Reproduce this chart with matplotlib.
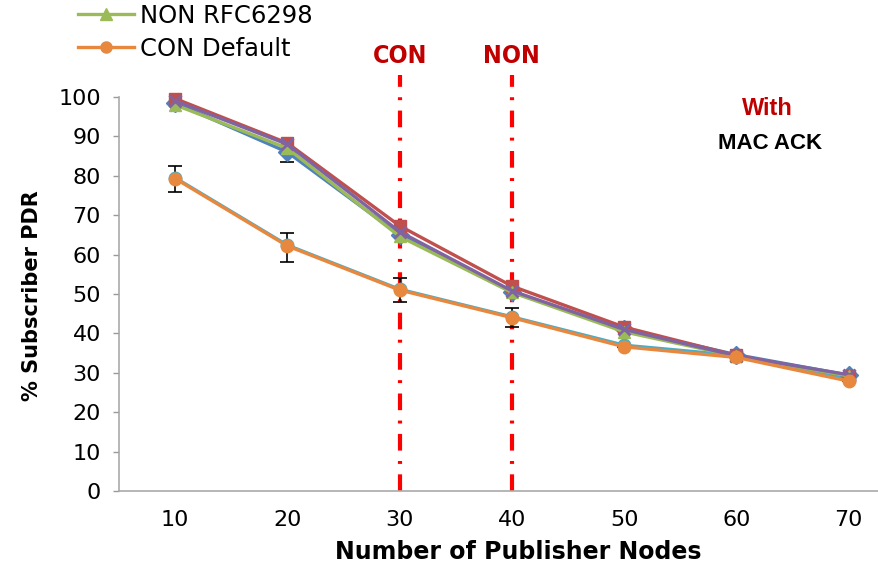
import numpy as np
import matplotlib
matplotlib.use("Agg")
import matplotlib.pyplot as plt
from matplotlib.lines import Line2D

# ---- data ----
nodes = [10, 20, 30, 40, 50, 60, 70]

non_blue = [98.5, 86.0, 65.0, 50.5, 41.0, 34.6, 29.4]
non_red = [99.6, 88.3, 67.3, 52.0, 41.6, 34.4, 29.2]
non_rfc6298 = [98.0, 87.0, 64.6, 50.4, 40.4, 34.2, 29.2]
non_purple = [99.0, 88.0, 65.8, 50.8, 41.0, 34.3, 29.5]
con_teal = [79.5, 62.4, 51.2, 44.2, 37.0, 34.4, 28.4]
con_default = [79.3, 62.2, 51.0, 44.0, 36.6, 33.9, 27.9]

# error bars (lower, upper) for the CON Default series
con_err_lo = [3.3, 4.2, 3.0, 2.5, 0.0, 0.0, 0.0]
con_err_hi = [3.2, 3.3, 3.0, 2.5, 0.0, 0.0, 0.0]
# error bars on the NON group (only at 20 nodes)
non_err_lo = [0.0, 2.5, 0.0, 0.0, 0.0, 0.0, 0.0]
non_err_hi = [0.0, 3.0, 0.0, 0.0, 0.0, 0.0, 0.0]

con_limit = 30
non_limit = 40

yticks = list(range(0, 101, 10))

fig = plt.figure(figsize=(8.79, 5.66), dpi=100)
ax = fig.add_axes([119 / 879, 1 - 491 / 566, 760 / 879, 394 / 566])

# vertical limit markers
for xv in (con_limit, non_limit):
    ax.plot([xv, xv], [0, 105.6], color="#ff0000", lw=3,
            ls=(0, (4, 2.5, 0.7, 2.5)), clip_on=False, zorder=1)
for xv, lab in ((con_limit, "CON"), (non_limit, "NON")):
    ax.text(xv, 110.3, lab, color="#c00000", fontsize=18,
            fontweight="bold", fontstretch="condensed",
            ha="center", va="center")

ax.errorbar(nodes, non_blue, yerr=[non_err_lo, non_err_hi], fmt="none",
            ecolor="black", elinewidth=1.2, capsize=5, capthick=1.2, zorder=2)
ax.errorbar(nodes, con_default, yerr=[con_err_lo, con_err_hi], fmt="none",
            ecolor="black", elinewidth=1.2, capsize=5, capthick=1.2, zorder=2)

style = dict(lw=2.4, ms=9, clip_on=False)
ax.plot(nodes, con_teal, color="#4bacc6", marker="o", zorder=3, **style)
ax.plot(nodes, non_blue, color="#4f81bd", marker="D", zorder=3, **style)
ax.plot(nodes, non_red, color="#c0504d", marker="s", zorder=4, **style)
ax.plot(nodes, non_rfc6298, color="#9bbb59", marker="^", zorder=5, **style)
ax.plot(nodes, non_purple, color="#8064a2", marker="x", mew=2, zorder=6, **style)
ax.plot(nodes, con_default, color="#e8883e", marker="o", zorder=7, **style)

ax.text(62.8, 97.0, "With", color="#c00000", fontsize=17,
        fontweight="bold", family=["Liberation Sans", "DejaVu Sans"],
        ha="center", va="center")
ax.text(63.0, 88.3, "MAC ACK", color="black", fontsize=16,
        fontweight="bold", family=["Liberation Sans", "DejaVu Sans"],
        ha="center", va="center")

ax.set_xlim(5.0, 72.7)
ax.set_ylim(0, 100)
ax.set_xticks(nodes)
ax.set_yticks(yticks)
ax.tick_params(axis="x", length=0, pad=14, labelsize=16)
ax.tick_params(axis="y", length=4, width=1, color="#999999", pad=9,
               labelsize=16)
for s in ("top", "right"):
    ax.spines[s].set_visible(False)
for s in ("left", "bottom"):
    ax.spines[s].set_color("#aaaaaa")
    ax.spines[s].set_linewidth(1.2)

ax.set_ylabel("% Subscriber PDR", fontsize=15, fontweight="bold")
ax.yaxis.set_label_coords(-0.101, 0.495)
ax.set_xlabel("Number of Publisher Nodes", fontsize=17, fontweight="bold")
ax.xaxis.set_label_coords(0.525, -0.125)

handles = [
    Line2D([], [], color="#9bbb59", marker="^", lw=2.4, ms=8),
    Line2D([], [], color="#e8883e", marker="o", lw=2.4, ms=8),
]
fig.legend(handles, ["NON RFC6298", "CON Default"], loc="upper left",
           bbox_to_anchor=(78 / 879, 1 - 4 / 566), frameon=False,
           fontsize=17.5, borderpad=0, borderaxespad=0, labelspacing=0.35,
           handlelength=2.3, handletextpad=0.25)

fig.savefig("out.png", dpi=100)
